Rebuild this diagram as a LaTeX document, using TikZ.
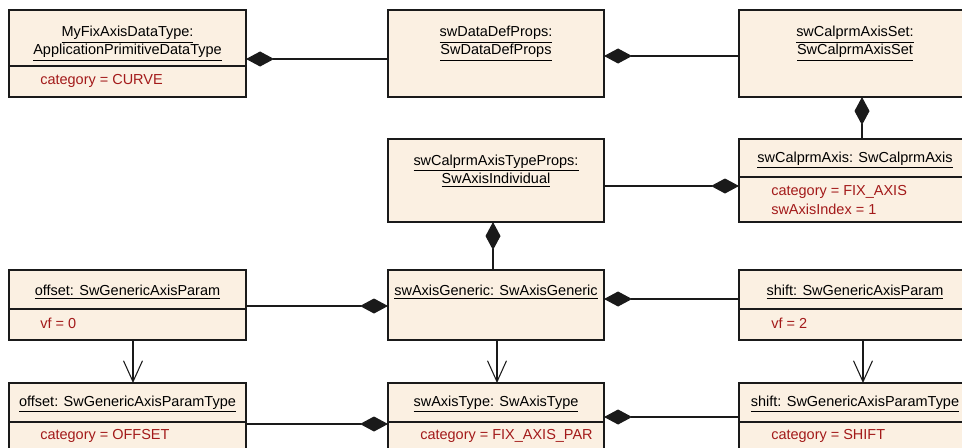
\documentclass[tikz,border=0pt]{standalone}
\usepackage{fontspec}
\setmainfont{Liberation Sans}
\usetikzlibrary{arrows.meta}
\definecolor{umlfill}{HTML}{FBF0E2}
\definecolor{umlline}{HTML}{1A1A1A}
\definecolor{attrred}{HTML}{A31A1A}

\begin{document}
\begin{tikzpicture}[x=0.025cm, y=-0.025cm,
  obj/.style={draw=umlline, line width=0.9pt, fill=umlfill, rectangle,
              inner sep=0pt, outer sep=0pt, anchor=north west},
  wl/.style={obj, minimum width=5.925cm},
  wm/.style={obj, minimum width=5.4cm},
  wr/.style={obj, minimum width=5.8cm},
  title/.style={align=center, inner sep=0pt, font=\fontsize{10.3}{12.8}\selectfont},
  attr/.style={anchor=west, align=left, inner sep=0pt, text=attrred,
               font=\fontsize{10.3}{13.2}\selectfont},
  sep/.style={draw=umlline, line width=0.9pt},
  comp/.style={line width=0.75pt, draw=umlline, -{Diamond[length=0.7cm, width=0.375cm]}},
  dep/.style={line width=0.75pt, draw=umlline, -{Straight Barb[length=0.525cm, width=0.475cm]}},
]
\useasboundingbox (0,0) rectangle (962,448);

% top row
\node[wl, minimum height=2.175cm] (fixtype) at (9,10) {};
\node[title] (fixtypeT) at (127.5,43.5)
  {\underline{MyFixAxisDataType:}\\\underline{ApplicationPrimitiveDataType}};
\draw[sep] (fixtype.west |- 0,66) -- (fixtype.east |- 0,66);
\node[attr] (fixtypeA) at (40,81) {category = CURVE};

\node[wm, minimum height=2.175cm] (defprops) at (388,10) {};
\node[title] (defpropsT) at (496,43.5)
  {\underline{swDataDefProps:}\\\underline{SwDataDefProps}};

\node[wr, minimum height=2.175cm] (axisset) at (739,10) {};
\node[title] (axissetT) at (855,43.5)
  {\underline{swCalprmAxisSet:}\\\underline{SwCalprmAxisSet}};

% second row
\node[wm, minimum height=2.075cm] (typeprops) at (388,139) {};
\node[title] (typepropsT) at (496,171)
  {\underline{swCalprmAxisTypeProps:}\\\underline{SwAxisIndividual}};

\node[wr, minimum height=2.075cm] (calaxis) at (739,139) {};
\node[title] (calaxisT) at (855,160) {\underline{swCalprmAxis: SwCalprmAxis}};
\draw[sep] (calaxis.west |- 0,177) -- (calaxis.east |- 0,177);
\node[attr] (calaxisA) at (771,200) {category = FIX\_AXIS\\swAxisIndex = 1};

% third row
\node[wl, minimum height=1.75cm] (offparam) at (9,270) {};
\node[title] (offparamT) at (127.5,292) {\underline{offset: SwGenericAxisParam}};
\draw[sep] (offparam.west |- 0,309) -- (offparam.east |- 0,309);
\node[attr] (offparamA) at (40,323) {vf = 0};

\node[wm, minimum height=1.75cm] (generic) at (388,270) {};
\node[title] (genericT) at (496,292) {\underline{swAxisGeneric: SwAxisGeneric}};

\node[wr, minimum height=1.75cm] (shiftparam) at (739,270) {};
\node[title] (shiftparamT) at (855,292) {\underline{shift: SwGenericAxisParam}};
\draw[sep] (shiftparam.west |- 0,309) -- (shiftparam.east |- 0,309);
\node[attr] (shiftparamA) at (771,323) {vf = 2};

% bottom row
\node[wl, minimum height=2cm] (offtype) at (9,383) {};
\node[title] (offtypeT) at (127.5,404) {\underline{offset: SwGenericAxisParamType}};
\draw[sep] (offtype.west |- 0,422) -- (offtype.east |- 0,422);
\node[attr] (offtypeA) at (40,436) {category = OFFSET};

\node[wm, minimum height=2cm] (axistype) at (388,383) {};
\node[title] (axistypeT) at (496,404) {\underline{swAxisType: SwAxisType}};
\draw[sep] (axistype.west |- 0,422) -- (axistype.east |- 0,422);
\node[attr] (axistypeA) at (420,436) {category = FIX\_AXIS\_PAR};

\node[wr, minimum height=2cm] (shifttype) at (739,383) {};
\node[title] (shifttypeT) at (855,404) {\underline{shift: SwGenericAxisParamType}};
\draw[sep] (shifttype.west |- 0,422) -- (shifttype.east |- 0,422);
\node[attr] (shifttypeA) at (771,436) {category = SHIFT};

% compositions
\draw[comp] (defprops.west |- 0,59) -- (fixtype.east |- 0,59);
\draw[comp] (axisset.west |- 0,56) -- (defprops.east |- 0,56);
\draw[comp] (calaxis.north -| 862,0) -- (axisset.south -| 862,0);
\draw[comp] (typeprops.east |- 0,186) -- (calaxis.west |- 0,186);
\draw[comp] (generic.north -| 493,0) -- (typeprops.south -| 493,0);
\draw[comp] (offparam.east |- 0,306) -- (generic.west |- 0,306);
\draw[comp] (shiftparam.west |- 0,299) -- (generic.east |- 0,299);
\draw[comp] (offtype.east |- 0,424) -- (axistype.west |- 0,424);
\draw[comp] (shifttype.west |- 0,417) -- (axistype.east |- 0,417);

% type links
\draw[dep] (offparam.south -| 133,0) -- (offtype.north -| 133,0);
\draw[dep] (generic.south -| 497,0) -- (axistype.north -| 497,0);
\draw[dep] (shiftparam.south -| 863,0) -- (shifttype.north -| 863,0);
\end{tikzpicture}
\end{document}
